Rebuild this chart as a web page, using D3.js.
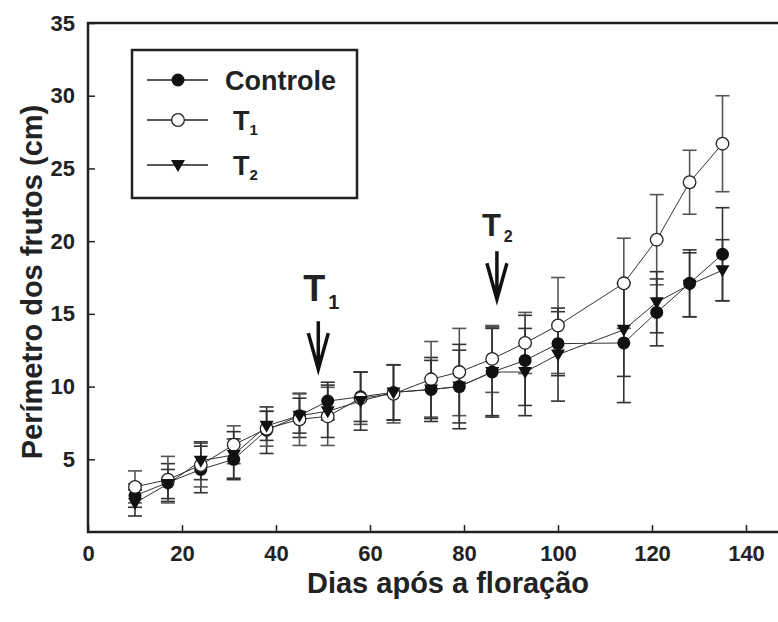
<!DOCTYPE html>
<html>
<head>
<meta charset="utf-8">
<script src="https://cdn.jsdelivr.net/npm/d3@7"></script>
<style>
  body { margin: 0; background: #fff; }
  svg { display: block; font-family: "Liberation Sans", Arial, sans-serif; font-weight: bold; }
</style>
</head>
<body>
<svg id="chart" width="778" height="622"></svg>
<script>
// days after flowering
const days = [10, 17, 24, 31, 38, 45, 51, 58, 65, 73, 79, 86, 93, 100, 114, 121, 128, 135];

// fruit perimeter (cm) and error bars
const controle = [2.5, 3.4, 4.3, 5.0, 7.0, 8.0, 9.0, 9.3, 9.6, 9.8, 10.0, 11.0, 11.8, 12.95, 13.0, 15.1, 17.1, 19.1];
const controleErr = [0.8, 1.3, 1.6, 1.4, 1.6, 1.5, 1.3, 1.7, 1.9, 2.2, 2.5, 3.1, 3.1, 2.2, 4.1, 2.3, 2.3, 3.2];
const t1 = [3.1, 3.6, 4.6, 6.0, 7.1, 7.75, 7.95, 9.2, 9.5, 10.5, 11.0, 11.9, 13.0, 14.2, 17.1, 20.1, 24.05, 26.7];
const t1Err = [1.1, 1.6, 1.5, 1.3, 1.2, 1.8, 2.0, 1.8, 2.0, 2.6, 3.0, 2.3, 2.1, 3.3, 3.1, 3.1, 2.2, 3.3];
const t2 = [2.0, 3.3, 4.9, 5.3, 7.3, 8.0, 8.3, 9.0, 9.6, 9.8, 10.0, 11.0, 11.0, 12.2, 13.9, 15.8, 17.0, 18.0];
const t2Err = [0.9, 1.0, 1.3, 1.6, 1.0, 1.2, 1.8, 2.0, 1.9, 2.0, 2.9, 3.0, 3.0, 3.2, 3.2, 2.1, 2.2, 2.1];

const xTicks = [0, 20, 40, 60, 80, 100, 120, 140];
const yTicks = [5, 10, 15, 20, 25, 30, 35];

// treatment arrows: day, top and tip of the arrow (cm)
const arrowNames = ["1", "2"];
const arrowDays = [49, 87];
const arrowTop = [14.5, 19.3];
const arrowTip = [11.2, 16.0];

const svg = d3.select("#chart");
const width = 778, height = 622;

const x = d3.scaleLinear().domain([0, 150]).range([88, 793]);
const y = d3.scaleLinear().domain([0, 35]).range([532, 23]);

svg.append("rect").attr("width", width).attr("height", height).attr("fill", "#fff");

// axes with inward ticks
const xAxis = svg.append("g")
    .attr("transform", `translate(0,${y(0)})`)
    .call(d3.axisBottom(x).tickValues(xTicks).tickSize(-7).tickPadding(13).tickSizeOuter(0));
const yAxis = svg.append("g")
    .attr("transform", `translate(${x(0)},0)`)
    .call(d3.axisLeft(y).tickValues(yTicks).tickSize(-7).tickPadding(13).tickSizeOuter(0));
[xAxis, yAxis].forEach(g => {
    g.select(".domain").remove();
    g.selectAll(".tick line").attr("stroke", "#222").attr("stroke-width", 1.5);
    g.selectAll(".tick text")
        .attr("fill", "#222")
        .style("font-size", "22px")
        .style("font-family", '"Liberation Sans", Arial, sans-serif')
        .style("font-weight", "bold");
});

// frame
svg.append("rect")
    .attr("x", x(0)).attr("y", y(35))
    .attr("width", x(150) - x(0)).attr("height", y(0) - y(35))
    .attr("fill", "none").attr("stroke", "#222").attr("stroke-width", 2.5);

// axis titles
svg.append("text")
    .attr("x", 448).attr("y", 593)
    .attr("text-anchor", "middle")
    .style("font-size", "29px").attr("fill", "#222")
    .text("Dias após a floração");
svg.append("text")
    .attr("transform", `translate(42,282) rotate(-90)`)
    .attr("text-anchor", "middle")
    .style("font-size", "29px").attr("fill", "#222")
    .text("Perímetro dos frutos (cm)");

const series = [
    { name: "Controle", values: controle, err: controleErr, marker: "fill", barColor: "#333" },
    { name: "T1", values: t1, err: t1Err, marker: "open", barColor: "#555" },
    { name: "T2", values: t2, err: t2Err, marker: "tri", barColor: "#333" }
];

const line = d3.line().x(d => x(d[0])).y(d => y(d[1]));
const capW = 7;

function drawMarker(g, kind) {
    if (kind === "fill") {
        g.append("circle").attr("r", 6.5).attr("fill", "#111");
    } else if (kind === "open") {
        g.append("circle").attr("r", 6.3).attr("fill", "#fff").attr("stroke", "#222").attr("stroke-width", 1.3);
    } else {
        g.append("path").attr("d", "M-7,-5 L7,-5 L0,7 Z").attr("fill", "#111");
    }
}

// connecting lines
series.forEach(s => {
    svg.append("path")
        .datum(days.map((d, i) => [d, s.values[i]]))
        .attr("d", line)
        .attr("fill", "none")
        .attr("stroke", "#333")
        .attr("stroke-width", 1);
});

// error bars
series.forEach(s => {
    const g = svg.append("g").attr("stroke", s.barColor).attr("stroke-width", 1.6);
    days.forEach((d, i) => {
        const hi = y(s.values[i] + s.err[i]), lo = y(s.values[i] - s.err[i]), cx = x(d);
        g.append("line").attr("x1", cx).attr("x2", cx).attr("y1", hi).attr("y2", lo);
        g.append("line").attr("x1", cx - capW).attr("x2", cx + capW).attr("y1", hi).attr("y2", hi);
        g.append("line").attr("x1", cx - capW).attr("x2", cx + capW).attr("y1", lo).attr("y2", lo);
    });
});

// markers
series.forEach(s => {
    days.forEach((d, i) => {
        const g = svg.append("g").attr("transform", `translate(${x(d)},${y(s.values[i])})`);
        drawMarker(g, s.marker);
    });
});

// legend
const legend = svg.append("g");
legend.append("rect")
    .attr("x", 132).attr("y", 50).attr("width", 225).attr("height", 148)
    .attr("fill", "#fff").attr("stroke", "#222").attr("stroke-width", 2.5);
const rowY = [80, 120, 165];
series.forEach((s, i) => {
    const row = legend.append("g").attr("transform", `translate(0,${rowY[i]})`);
    row.append("line").attr("x1", 147).attr("x2", 208).attr("stroke", "#222").attr("stroke-width", 1.3);
    drawMarker(row.append("g").attr("transform", "translate(178,0)"), s.marker);
    const t = row.append("text").attr("y", 10).attr("fill", "#222").style("font-size", "27px");
    if (i === 0) {
        t.attr("x", 225).text(s.name);
    } else {
        t.attr("x", 233).text("T");
        t.append("tspan").attr("dy", 5).style("font-size", "15px").text(s.name.slice(1));
    }
});

// treatment arrows
arrowDays.forEach((d, i) => {
    const ax = x(d), top = y(arrowTop[i]), tip = y(arrowTip[i]);
    svg.append("path")
        .attr("d", `M${ax},${top} L${ax},${tip} M${ax - 10},${tip - 36} L${ax},${tip} L${ax + 10},${tip - 36}`)
        .attr("fill", "none").attr("stroke", "#111").attr("stroke-width", 3.5)
        .attr("stroke-linejoin", "miter");
    const big = i === 0;
    const t = svg.append("text")
        .attr("x", ax - 15)
        .attr("y", top - (big ? 20 : 15))
        .attr("fill", "#222")
        .style("font-size", big ? "36px" : "31px")
        .text("T");
    t.append("tspan").attr("dy", big ? 8 : 6).attr("dx", 3).style("font-size", big ? "20px" : "16px").text(arrowNames[i]);
});
</script>
</body>
</html>
